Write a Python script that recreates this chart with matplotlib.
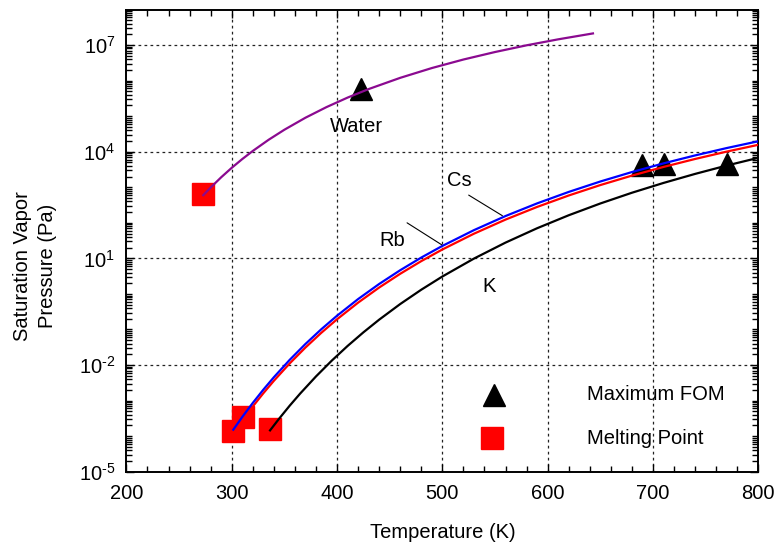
import numpy as np
import matplotlib
matplotlib.use("Agg")
import matplotlib.pyplot as plt
from matplotlib.ticker import FixedLocator, FixedFormatter, LogLocator, MultipleLocator, NullFormatter

plt.rcParams['font.family'] = ['Liberation Sans', 'DejaVu Sans']
plt.rcParams['mathtext.fontset'] = 'custom'
plt.rcParams['mathtext.rm'] = 'Liberation Sans'
plt.rcParams['mathtext.it'] = 'Liberation Sans:italic'

# ---- data (log10 of pressure in Pa) ----
water_T = [273, 280, 290, 300, 310, 320, 335, 350, 370, 390, 410, 430, 460, 490, 520, 550, 580, 610, 643]
water_logP = [2.777, 2.993, 3.281, 3.547, 3.793, 4.021, 4.335, 4.618, 4.956, 5.255, 5.522, 5.762,
              6.078, 6.353, 6.593, 6.804, 6.993, 7.161, 7.327]

cs_T = [301.5, 310, 320, 330, 340, 355, 370, 385, 400, 420, 440, 460, 480, 500, 530, 560, 590,
        620, 650, 680, 710, 740, 770, 800]
cs_logP = [-3.818, -3.461, -3.066, -2.694, -2.344, -1.856, -1.408, -0.995, -0.613, -0.145, 0.280,
           0.667, 1.023, 1.350, 1.794, 2.191, 2.547, 2.869, 3.162, 3.428, 3.672, 3.896, 4.103, 4.294]

rb_T = [301.5, 310, 320, 330, 340, 355, 370, 385, 400, 420, 440, 460, 480, 500, 530, 560, 590,
        620, 650, 680, 710, 740, 770, 800]
rb_logP = [-3.918, -3.561, -3.166, -2.794, -2.444, -1.956, -1.508, -1.095, -0.713, -0.245, 0.180,
           0.567, 0.923, 1.250, 1.694, 2.091, 2.447, 2.769, 3.062, 3.328, 3.572, 3.796, 4.003, 4.194]

k_T = [336.4, 345, 355, 365, 380, 395, 410, 425, 440, 460, 480, 500, 530, 560, 590, 620, 650,
       680, 710, 740, 770, 800]
k_logP = [-3.838, -3.509, -3.145, -2.802, -2.321, -1.876, -1.464, -1.081, -0.724, -0.284, 0.119,
          0.490, 0.994, 1.444, 1.848, 2.213, 2.544, 2.846, 3.122, 3.376, 3.611, 3.828]

# melting points (squares): water, Cs, Rb, K
melt_T = [273, 301, 311, 336]
melt_logP = [2.80, -3.85, -3.45, -3.80]

# maximum FOM (triangles): water, Cs, Rb, K
fom_T = [423, 690, 710, 770]
fom_logP = [5.76, 3.63, 3.65, 3.65]

# curve labels
label_text = ['Water', 'Cs', 'Rb', 'K']
label_T = [418, 516, 452, 544]
label_logP = [4.72, 3.18, 1.49, 0.22]

# leader lines: (from text) -> (to curve)
lead_from_T = [525, 466.5]
lead_from_logP = [2.78, 2.00]
lead_to_T = [557, 499.5]
lead_to_logP = [2.20, 1.38]

xticks = [200, 300, 400, 500, 600, 700, 800]
yticks_exp = [-5, -2, 1, 4, 7]
yticklabels = [r'$\mathregular{10^{%s}}$' % str(e).replace('-', '\u2010') for e in yticks_exp]

legend_labels = ['Maximum FOM', 'Melting Point']

FS = 14.5


def P(v):
    return 10.0 ** np.asarray(v)


fig = plt.figure(figsize=(7.83, 5.46), dpi=100)
ax = fig.add_axes([126.4 / 783, 1 - 471.7 / 546, (758.3 - 126.4) / 783, (471.7 - 9.5) / 546])
ax.set_yscale('log')
ax.set_xlim(200, 800)
ax.set_ylim(1e-5, 1e8)

# grid
for x in xticks[1:-1]:
    ax.axvline(x, color='#222222', lw=0.9, ls=(0, (2.2, 2.6)), zorder=1)
for e in yticks_exp[1:]:
    ax.axhline(10.0 ** e, color='#222222', lw=0.9, ls=(0, (2.2, 2.6)), zorder=1)

# markers
ax.plot(fom_T, P(fom_logP), ls='none', marker='^', ms=16.5, color='black', zorder=3)
ax.plot(melt_T, P(melt_logP), ls='none', marker='s', ms=15.5, color='#FF0000', zorder=3)

# curves
ax.plot(water_T, P(water_logP), color='#8B0A90', lw=1.6, zorder=4)
ax.plot(k_T, P(k_logP), color='black', lw=1.6, zorder=4)
ax.plot(rb_T, P(rb_logP), color='#FF0000', lw=1.6, zorder=4)
ax.plot(cs_T, P(cs_logP), color='#0000FF', lw=1.6, zorder=5)

# curve labels
for t, x, y in zip(label_text, label_T, label_logP):
    ax.text(x, 10.0 ** y, t, fontsize=FS, ha='center', va='center', zorder=6)
for x0, y0, x1, y1 in zip(lead_from_T, lead_from_logP, lead_to_T, lead_to_logP):
    ax.annotate('', xy=(x1, 10.0 ** y1), xytext=(x0, 10.0 ** y0),
                arrowprops=dict(arrowstyle='-', lw=0.8, color='black',
                                shrinkA=0, shrinkB=0), zorder=6)

# legend (manual)
ax.plot([0.581], [0.166], transform=ax.transAxes, marker='^', ms=16.5, color='black', clip_on=False)
ax.plot([0.579], [0.0723], transform=ax.transAxes, marker='s', ms=15.5, color='#FF0000', clip_on=False)
ax.text(0.7284, 0.166, legend_labels[0], transform=ax.transAxes, fontsize=FS, ha='left', va='center')
ax.text(0.7284, 0.0723, legend_labels[1], transform=ax.transAxes, fontsize=FS, ha='left', va='center')

# ticks
ax.xaxis.set_major_locator(FixedLocator(xticks))
ax.xaxis.set_minor_locator(MultipleLocator(20))
ax.set_xticklabels([str(v) for v in xticks])
ax.yaxis.set_major_locator(FixedLocator([10.0 ** e for e in yticks_exp]))
ax.yaxis.set_major_formatter(FixedFormatter(yticklabels))
ax.yaxis.set_minor_locator(LogLocator(base=10, subs=np.arange(1, 10), numticks=100))
ax.yaxis.set_minor_formatter(NullFormatter())
ax.tick_params(which='both', direction='in', top=True, right=True, labelsize=FS, width=1.0)
ax.tick_params(which='major', length=6)
ax.tick_params(axis='x', which='major', pad=9)
ax.tick_params(axis='y', which='major', pad=8)
ax.tick_params(which='minor', length=4)
for s in ax.spines.values():
    s.set_linewidth(1.4)

ax.set_xlabel('Temperature (K)', fontsize=FS, labelpad=14)
fig.text(0.0447, 1 - 266 / 546, 'Saturation Vapor\nPressure (Pa)', rotation=90,
         ha='center', va='center', fontsize=FS, multialignment='center', linespacing=1.35)

fig.savefig('out.png', dpi=100)
